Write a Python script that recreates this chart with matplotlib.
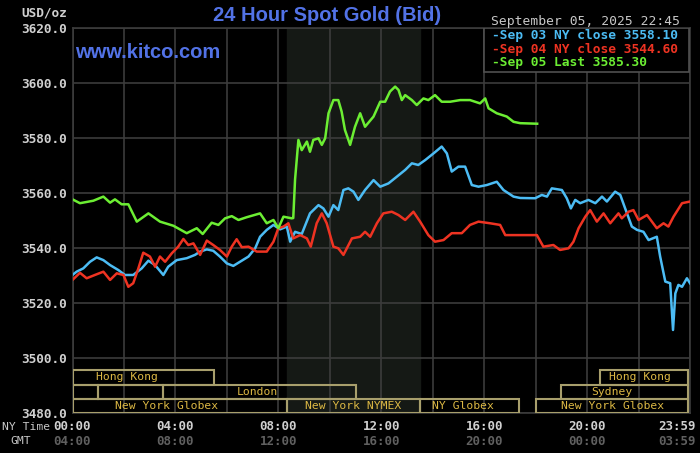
import matplotlib
matplotlib.use("Agg")
import matplotlib.pyplot as plt
from matplotlib.patches import Rectangle
import numpy as np

# hours (NY time) and bid prices
green_h = [0.0, 0.29, 0.81, 1.20, 1.46, 1.65, 1.91, 2.17, 2.50, 2.95, 3.40, 3.92,
           4.44, 4.83, 5.06, 5.41, 5.67, 5.93, 6.19, 6.45, 6.77, 7.29, 7.55, 7.81,
           8.00, 8.20, 8.52, 8.58, 8.65, 8.78, 8.91, 9.11, 9.23, 9.36, 9.56, 9.69,
           9.82, 9.95, 10.14, 10.33, 10.46, 10.59, 10.79, 10.98, 11.18, 11.37,
           11.70, 11.96, 12.15, 12.34, 12.54, 12.67, 12.80, 12.93, 13.19, 13.38,
           13.64, 13.83, 14.09, 14.35, 14.68, 15.07, 15.45, 15.84, 16.04, 16.17,
           16.49, 16.88, 17.14, 17.40, 18.06]
green_v = [3557.8, 3556.4, 3557.3, 3558.8, 3556.6, 3557.8, 3556.0, 3556.0, 3549.7,
           3552.7, 3549.7, 3548.2, 3545.5, 3547.3, 3545.2, 3549.3, 3548.5, 3550.9,
           3551.7, 3550.3, 3551.3, 3552.7, 3549.1, 3550.3, 3547.3, 3551.5, 3550.9,
           3551.0, 3565.0, 3579.4, 3575.7, 3578.8, 3575.1, 3579.4, 3580.0, 3577.6,
           3580.0, 3589.1, 3593.9, 3593.9, 3589.7, 3583.0, 3577.6, 3584.2, 3589.1,
           3584.2, 3587.9, 3593.3, 3593.3, 3597.0, 3598.8, 3597.6, 3593.9, 3595.7,
           3593.9, 3592.1, 3594.5, 3593.9, 3595.7, 3593.3, 3593.3, 3593.9, 3593.9,
           3592.7, 3594.5, 3590.9, 3589.1, 3587.9, 3586.0, 3585.5, 3585.3]

blue_h = [0.0, 0.16, 0.42, 0.68, 0.94, 1.20, 1.46, 1.78, 2.04, 2.36, 2.69, 2.95,
          3.21, 3.53, 3.72, 4.05, 4.44, 4.76, 4.96, 5.22, 5.47, 5.73, 6.00, 6.25,
          6.51, 6.84, 7.10, 7.29, 7.55, 7.81, 8.07, 8.33, 8.46, 8.65, 8.91, 9.23,
          9.56, 9.75, 9.95, 10.14, 10.33, 10.53, 10.72, 10.92, 11.11, 11.37, 11.70,
          11.96, 12.28, 12.60, 12.93, 13.19, 13.44, 13.71, 14.03, 14.35, 14.55,
          14.74, 15.00, 15.26, 15.52, 15.78, 16.10, 16.49, 16.75, 17.14, 17.40,
          17.98, 18.24, 18.44, 18.63, 19.02, 19.21, 19.37, 19.54, 19.73, 20.05,
          20.32, 20.58, 20.77, 21.09, 21.29, 21.48, 21.74, 21.94, 22.19, 22.39,
          22.71, 22.84, 23.04, 23.23, 23.34, 23.43, 23.55, 23.69, 23.88, 24.0]
blue_v = [3530.3, 3531.5, 3532.7, 3535.1, 3536.7, 3535.7, 3533.9, 3532.1, 3530.3,
          3530.3, 3532.7, 3535.5, 3533.9, 3530.3, 3533.3, 3535.7, 3536.4, 3537.6,
          3538.8, 3539.6, 3539.1, 3537.0, 3534.5, 3533.6, 3535.1, 3537.0, 3540.0,
          3544.2, 3546.7, 3548.5, 3546.9, 3547.9, 3542.4, 3546.0, 3545.2, 3552.7,
          3555.7, 3554.5, 3551.5, 3555.7, 3553.9, 3561.2, 3561.8, 3560.6, 3557.6,
          3561.2, 3564.8, 3562.4, 3563.6, 3566.0, 3568.5, 3570.9, 3570.3, 3572.1,
          3574.5, 3577.0, 3574.5, 3567.9, 3569.7, 3569.7, 3563.0, 3562.4, 3563.0,
          3564.2, 3561.2, 3558.8, 3558.3, 3558.2, 3559.4, 3558.8, 3561.8, 3561.2,
          3558.2, 3554.5, 3557.6, 3556.4, 3557.6, 3556.4, 3558.8, 3557.0, 3560.6,
          3559.4, 3554.5, 3547.9, 3546.7, 3546.0, 3543.0, 3544.2, 3537.0, 3527.9,
          3527.3, 3510.3, 3523.6, 3526.7, 3526.0, 3529.1, 3527.3]

red_h = [0.0, 0.29, 0.55, 0.87, 1.20, 1.46, 1.72, 1.98, 2.17, 2.36, 2.56, 2.75,
         3.01, 3.21, 3.40, 3.60, 3.86, 4.11, 4.31, 4.50, 4.70, 4.96, 5.22, 5.47,
         5.73, 6.00, 6.19, 6.38, 6.58, 6.84, 7.16, 7.55, 7.81, 8.00, 8.20, 8.39,
         8.58, 8.85, 9.11, 9.26, 9.49, 9.69, 9.88, 10.14, 10.33, 10.53, 10.86,
         11.18, 11.37, 11.57, 11.83, 12.08, 12.41, 12.67, 12.93, 13.25, 13.51,
         13.83, 14.09, 14.42, 14.74, 15.13, 15.45, 15.78, 16.23, 16.62, 16.82,
         18.05, 18.30, 18.69, 18.95, 19.28, 19.47, 19.67, 19.93, 20.12, 20.38,
         20.64, 20.90, 21.22, 21.35, 21.61, 21.80, 22.00, 22.33, 22.71, 22.97,
         23.16, 23.36, 23.69, 24.0]
red_v = [3528.5, 3531.1, 3529.1, 3530.3, 3531.5, 3528.5, 3530.9, 3530.3, 3526.0,
         3527.3, 3532.7, 3538.4, 3537.0, 3533.3, 3537.0, 3535.1, 3538.2, 3540.6,
         3543.4, 3541.2, 3541.8, 3537.6, 3542.8, 3541.2, 3539.4, 3537.0, 3540.6,
         3543.3, 3540.4, 3540.6, 3538.8, 3538.8, 3542.4, 3547.3, 3547.9, 3549.1,
         3543.6, 3544.8, 3543.6, 3540.6, 3549.1, 3552.7, 3549.1, 3540.6, 3540.0,
         3537.6, 3543.6, 3544.2, 3546.0, 3544.2, 3549.1, 3552.7, 3553.3, 3552.1,
         3550.3, 3553.3, 3549.7, 3544.8, 3542.4, 3543.0, 3545.5, 3545.5, 3548.5,
         3549.7, 3549.1, 3548.5, 3544.8, 3544.8, 3540.6, 3541.2, 3539.4, 3540.0,
         3542.4, 3547.3, 3551.5, 3553.9, 3549.7, 3552.7, 3549.1, 3552.7, 3550.9,
         3553.3, 3553.9, 3550.3, 3552.1, 3547.3, 3549.1, 3547.9, 3551.5, 3556.4,
         3557.0]

legend_labels = ["Sep 03 NY close 3558.10", "Sep 04 NY close 3544.60",
                 "Sep 05 Last 3585.30"]

# trading sessions: name, start hour, end hour, row (0 = bottom), label hour
sess_names = ["New York Globex", "New York NYMEX", "NY Globex", "New York Globex",
              "", "", "London", "Sydney", "Hong Kong", "Hong Kong"]
sess_start = [0.0, 8.33, 13.5, 18.0, 0.0, 1.0, 3.5, 19.0, 0.0, 20.5]
sess_end = [8.33, 13.5, 17.35, 23.93, 1.0, 3.5, 11.0, 23.93, 5.5, 23.93]
sess_row = [0, 0, 0, 0, 1, 1, 1, 1, 2, 2]
sess_label_at = [3.67, 10.9, 15.18, 20.98, 0, 0, 7.17, 20.98, 2.12, 22.07]

ny_ticks = [0, 4, 8, 12, 16, 20, 23.5]
ny_labels = ["00:00", "04:00", "08:00", "12:00", "16:00", "20:00", "23:59"]
gmt_labels = ["04:00", "08:00", "12:00", "16:00", "20:00", "00:00", "03:59"]

BLUE, RED, GREEN = "#4cbcf4", "#ee3322", "#6cee33"
MONO = "DejaVu Sans Mono"

fig = plt.figure(figsize=(7, 4.53), dpi=100, facecolor="black")
ax = fig.add_axes([72.5 / 700, 1 - 413.3 / 453, 617.5 / 700, 385 / 453])
ax.set_facecolor("black")
ax.set_xlim(0, 24)
ax.set_ylim(3480, 3620)

ax.axvspan(8.33, 13.5, color="#151915", zorder=0)

ax.set_xticks(np.arange(0, 25, 2))
ax.set_xticklabels([])
ax.set_yticks(np.arange(3480, 3621, 20))
ax.set_yticklabels([f"{v:.1f}" for v in np.arange(3480, 3621, 20)],
                   family=MONO, fontweight="bold", fontsize=9.2, color="#d0d0d0")
ax.tick_params(length=0, pad=4)
ax.grid(True, color="#3c3c3c", linewidth=1.2, zorder=1)
ax.set_axisbelow(True)
for s in ax.spines.values():
    s.set_color("#3c3c3c")
    s.set_linewidth(1.2)

ax.plot(blue_h, blue_v, color=BLUE, lw=1.8, zorder=3)
ax.plot(red_h, red_v, color=RED, lw=1.8, zorder=3)
ax.plot(green_h, green_v, color=GREEN, lw=1.8, zorder=4)

# session boxes along the bottom
trans = ax.get_xaxis_transform()
row_edges = [0.0, 0.037, 0.0735, 0.1125]
for name, a, b, r, lab in zip(sess_names, sess_start, sess_end, sess_row, sess_label_at):
    y0 = row_edges[r]
    h = row_edges[r + 1] - y0
    ax.add_patch(Rectangle((a, y0), b - a, h, transform=trans, fill=False,
                           edgecolor="#a89f6c", linewidth=1.5, zorder=5))
    if name:
        ax.text(lab, y0 + h / 2, name, transform=trans, ha="center", va="center",
                family=MONO, fontsize=8.2, color="#dcb844", zorder=6)

# legend box
ax.add_patch(Rectangle((16.0, 3604.1), 7.98, 15.9, facecolor="black",
                       edgecolor="#505050", linewidth=1.2, zorder=6))
for i, (lab, col) in enumerate(zip(legend_labels, [BLUE, RED, GREEN])):
    ax.text(16.3, 0.98 - i * 0.035, "-" + lab, transform=trans,
            ha="left", va="center", family=MONO, fontweight="bold",
            fontsize=9.3, color=col, zorder=7)

# x labels: NY time and GMT rows
for x, a, b in zip(ny_ticks, ny_labels, gmt_labels):
    ax.text(x, -0.035, a, transform=trans, ha="center", va="center", family=MONO,
            fontweight="bold", fontsize=9, color="#d0d0d0")
    ax.text(x, -0.072, b, transform=trans, ha="center", va="center", family=MONO,
            fontweight="bold", fontsize=9, color="#606060")
fig.text(2 / 700, 1 - 427 / 453, "NY Time", ha="left", va="center", family=MONO,
         fontsize=8.2, color="#c8c8c8")
fig.text(21 / 700, 1 - 441 / 453, "GMT", ha="center", va="center", family=MONO,
         fontsize=8.2, color="#c8c8c8")

fig.text(67 / 700, 1 - 13 / 453, "USD/oz", ha="right", va="center", family=MONO,
         fontweight="bold", fontsize=9.2, color="#d0d0d0")
fig.text(327 / 700, 1 - 15.5 / 453, "24 Hour Spot Gold (Bid)", ha="center",
         va="center", family="Liberation Sans", fontweight="bold", fontsize=14.5,
         color="#5272e6")
fig.text(75 / 700, 1 - 53 / 453, "www.kitco.com", ha="left", va="center",
         family="Liberation Sans", fontweight="bold", fontsize=14.5, color="#5272e6")
fig.text(491 / 700, 1 - 21 / 453, "September 05, 2025 22:45", ha="left",
         va="center", family=MONO, fontsize=9.4, color="#c8c8c8")

fig.savefig("out.png", dpi=100, facecolor="black")
